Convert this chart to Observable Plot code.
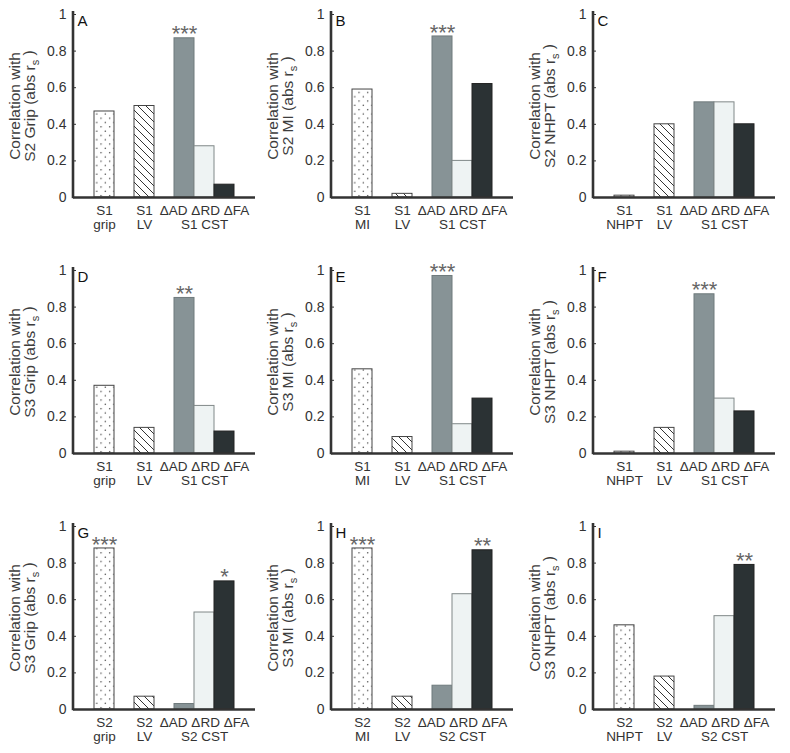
<!DOCTYPE html>
<html><head><meta charset="utf-8">
<script src="https://cdn.jsdelivr.net/npm/d3@7"></script>
<script src="https://cdn.jsdelivr.net/npm/@observablehq/plot@0.6"></script>
<style>
body{margin:0;background:#fff;font-family:"Liberation Sans",Arial,sans-serif;overflow:hidden;}
#wrap{position:relative;width:790px;height:753px;}
.panel{position:absolute;}
</style></head><body>
<svg width="0" height="0" style="position:absolute">
  <defs>
    <pattern id="dots" patternUnits="userSpaceOnUse" width="8.6" height="8.6">
      <rect width="8.6" height="8.6" fill="#fff"/>
      <circle cx="2.15" cy="2.15" r="0.7" fill="#333"/>
      <circle cx="6.45" cy="6.45" r="0.7" fill="#333"/>
    </pattern>
    <pattern id="hatch" patternUnits="userSpaceOnUse" width="8" height="8">
      <rect width="8" height="8" fill="#fff"/>
      <path d="M-2,-2L10,10M-2,6L2,10M6,-2L10,2" stroke="#333" stroke-width="1"/>
    </pattern>
  </defs>
</svg>
<div id="wrap"></div>
<script>
// ---- data ----
const panelLetters = ["A","B","C","D","E","F","G","H","I"];
const outcomeLabels = ["S2 Grip","S2 MI","S2 NHPT","S3 Grip","S3 MI","S3 NHPT","S3 Grip","S3 MI","S3 NHPT"];
const predictorSession = ["S1","S1","S1","S1","S1","S1","S2","S2","S2"];
const clinicalMeasure = ["grip","MI","NHPT","grip","MI","NHPT","grip","MI","NHPT"];
const barKeys = ["clinical","LV","ΔAD","ΔRD","ΔFA"];
const yTicks = [0, 0.2, 0.4, 0.6, 0.8, 1];

const valuesA = [0.47, 0.50, 0.87, 0.28, 0.07];
const valuesB = [0.59, 0.02, 0.88, 0.20, 0.62];
const valuesC = [0.01, 0.40, 0.52, 0.52, 0.40];
const valuesD = [0.37, 0.14, 0.85, 0.26, 0.12];
const valuesE = [0.46, 0.09, 0.97, 0.16, 0.30];
const valuesF = [0.01, 0.14, 0.87, 0.30, 0.23];
const valuesG = [0.88, 0.07, 0.03, 0.53, 0.70];
const valuesH = [0.88, 0.07, 0.13, 0.63, 0.87];
const valuesI = [0.46, 0.18, 0.02, 0.51, 0.79];

const starsA = ["", "", "***", "", ""];
const starsB = ["", "", "***", "", ""];
const starsC = ["", "", "", "", ""];
const starsD = ["", "", "**", "", ""];
const starsE = ["", "", "***", "", ""];
const starsF = ["", "", "***", "", ""];
const starsG = ["***", "", "", "", "*"];
const starsH = ["***", "", "", "", "**"];
const starsI = ["", "", "", "", "**"];

const allValues = [valuesA, valuesB, valuesC, valuesD, valuesE, valuesF, valuesG, valuesH, valuesI];
const allStars = [starsA, starsB, starsC, starsD, starsE, starsF, starsG, starsH, starsI];

// ---- styles / layout ----
const fills = {clinical: "url(#dots)", LV: "url(#hatch)", "ΔAD": "#879396", "ΔRD": "#eef3f3", "ΔFA": "#2b3234"};
const strokes = {clinical: "#444", LV: "#444", "ΔAD": "#6f7a7c", "ΔRD": "#808888", "ΔFA": "#222"};
const xDomain = ["clinical", "gap1", "LV", "gap2", "ΔAD", "ΔRD", "ΔFA"];
const colLeft = [0, 258, 520];
const rowTop = [0, 256, 512];
const W = 263, H = 241, mL = 73, mR = 8, mT = 14, mB = 44;

const wrap = document.getElementById("wrap");

allValues.forEach((vals, p) => {
  const sess = predictorSession[p];
  const tickLabels = [`${sess}\n${clinicalMeasure[p]}`, `${sess}\nLV`, "", `${barKeys.slice(2).join(" ")}\n${sess} CST`, ""];
  const rows = barKeys.map((k, i) => ({key: k, value: vals[i], stars: allStars[p][i], label: tickLabels[i]}));
  const yAxisLine = (index, scales, values, dims) => {
    const l = document.createElementNS("http://www.w3.org/2000/svg", "line");
    l.setAttribute("x1", dims.marginLeft); l.setAttribute("x2", dims.marginLeft);
    l.setAttribute("y1", dims.marginTop - 3); l.setAttribute("y2", dims.height - dims.marginBottom + 1.2);
    l.setAttribute("stroke", "#333"); l.setAttribute("stroke-width", 2.6);
    return l;
  };
  const chart = Plot.plot({
    width: W, height: H,
    marginLeft: mL, marginRight: mR, marginTop: mT, marginBottom: mB,
    style: {fontFamily: '"Liberation Sans", Arial, sans-serif', fontSize: "14px", color: "#333", background: "transparent", overflow: "visible"},
    x: {type: "band", domain: xDomain, paddingInner: 0, paddingOuter: 0.875, axis: null},
    y: {domain: [0, 1], axis: null},
    marks: [
      ...barKeys.map(k => Plot.barY(rows.filter(d => d.key === k), {
        x: "key", y: "value", fill: fills[k], stroke: strokes[k], strokeWidth: 1, inset: 0
      })),
      Plot.axisY({ticks: yTicks, tickFormat: d => String(d), tickSize: -3, tickPadding: 10, fontSize: 14, stroke: "#333", label: null}),
      Plot.ruleY([0], {stroke: "#333", strokeWidth: 2.6}),
      yAxisLine,
      Plot.text(rows.filter(d => d.label), {x: "key", y: 0, text: "label", lineAnchor: "top", dy: 7, fontSize: 13.5, lineHeight: 1.08, fill: "#333"}),
      Plot.text(rows.filter(d => d.stars), {x: "key", y: "value", text: "stars", lineAnchor: "middle", dy: -4, fontSize: 22, fill: "#666"}),
      Plot.text([panelLetters[p]], {frameAnchor: "top-left", text: d => d, dx: 4, dy: 1, lineAnchor: "top", textAnchor: "start", fontSize: 15, fill: "#111"}),
      Plot.text([`Correlation with\n${outcomeLabels[p]} (abs r_s )`], {frameAnchor: "left", text: d => d, rotate: -90, dx: -51, lineAnchor: "middle", textAnchor: "middle", fontSize: 15.5, lineHeight: 1.0, fill: "#3d3d3d"})
    ]
  });
  // subscript s in "abs r_s"
  chart.querySelectorAll("tspan").forEach(t => {
    const txt = t.textContent;
    if (txt.includes("r_s")) {
      const [pre, post] = txt.split("r_s");
      t.textContent = pre + "r";
      const sub = document.createElementNS("http://www.w3.org/2000/svg", "tspan");
      sub.setAttribute("font-size", "11");
      sub.setAttribute("dy", "0.3em");
      sub.textContent = "s";
      t.appendChild(sub);
      const rest = document.createElementNS("http://www.w3.org/2000/svg", "tspan");
      rest.setAttribute("dy", "-0.3em");
      rest.textContent = post;
      t.appendChild(rest);
    }
  });
  const div = document.createElement("div");
  div.className = "panel";
  div.style.left = colLeft[p % 3] + "px";
  div.style.top = rowTop[Math.floor(p / 3)] + "px";
  div.appendChild(chart);
  wrap.appendChild(div);
});
</script>
</body></html>
